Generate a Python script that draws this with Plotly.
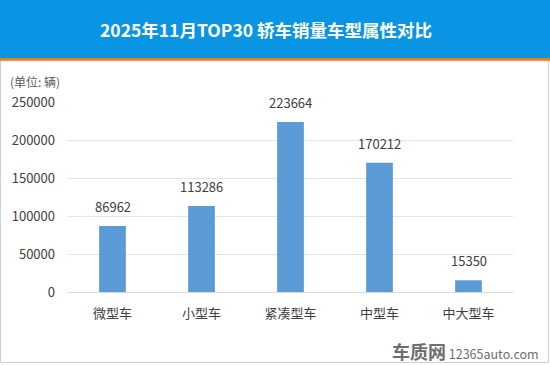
import plotly.graph_objects as go

categories = ["微型车", "小型车", "紧凑型车", "中型车", "中大型车"]
values = [86962, 113286, 223664, 170212, 15350]
tick_vals = [0, 50000, 100000, 150000, 200000, 250000]

W, H = 550, 365
L, R, T, B = 68, 37, 102, 73
ph = H - T - B
pw = W - L - R


def xp(p):
    return (p - L) / pw


def yp(p):
    return (H - B - p) / ph


fig = go.Figure(go.Bar(
    x=categories, y=values, width=0.3,
    marker=dict(color="#5B9BD5", line=dict(width=0)),
    hoverinfo="x+y",
))

shapes = [
    dict(type="rect", xref="paper", yref="paper", x0=xp(0), x1=xp(W), y0=yp(58), y1=yp(0),
         fillcolor="#0995E4", line=dict(width=0), layer="below"),
    dict(type="rect", xref="paper", yref="paper", x0=xp(0), x1=xp(W), y0=yp(61), y1=yp(58),
         fillcolor="#F07C00", line=dict(width=0), layer="below"),
    dict(type="rect", xref="paper", yref="paper", x0=xp(0.5), x1=xp(W - 1.5), y0=yp(H - 2.5), y1=yp(61),
         fillcolor="rgba(0,0,0,0)", line=dict(width=1, color="#D0D0D0"), layer="below"),
]

annotations = [
    dict(text="<b>2025年11月TOP30 轿车销量车型属性对比</b>", xref="paper", yref="paper",
         x=xp(266), y=yp(30), xanchor="center", yanchor="middle", showarrow=False,
         font=dict(size=17.5, color="white")),
    dict(text="(单位: 辆)", xref="paper", yref="paper", x=xp(8), y=yp(81),
         xanchor="left", yanchor="middle", showarrow=False, font=dict(size=12, color="#595959")),
    dict(text="<b><span style='font-size:18px'>车质网</span></b> 12365auto.com", xref="paper", yref="paper",
         x=xp(541), y=yp(351), xanchor="right", yanchor="middle", showarrow=False,
         font=dict(size=12.5, color="#6E6E6E")),
]
for c, v in zip(categories, values):
    annotations.append(dict(x=c, y=v, xref="x", yref="y", text=str(v), showarrow=False,
                            yanchor="bottom", yshift=8, font=dict(size=13, color="#404040")))

fig.update_layout(
    width=W, height=H,
    margin=dict(l=L, r=R, t=T, b=B),
    paper_bgcolor="white", plot_bgcolor="white",
    font=dict(family="Noto Sans CJK SC, Noto Sans, sans-serif", color="#595959", size=13),
    showlegend=False,
    shapes=shapes,
    annotations=annotations,
    xaxis=dict(showgrid=False, showline=True, linecolor="#D9D9D9", linewidth=1, ticks="",
               tickfont=dict(size=13, color="#404040"), ticklabelstandoff=9, fixedrange=True),
    yaxis=dict(range=[0, 250000], tickvals=tick_vals, ticktext=[str(v) for v in tick_vals],
               showgrid=True, gridcolor="#E4E4E4", gridwidth=1, zeroline=False, showline=False,
               tickfont=dict(size=13, color="#404040"), ticklabelstandoff=12, fixedrange=True),
)

fig.write_html("out.html", config={"displayModeBar": False},
               post_script="document.body.style.margin='0';document.body.style.overflow='hidden';")
